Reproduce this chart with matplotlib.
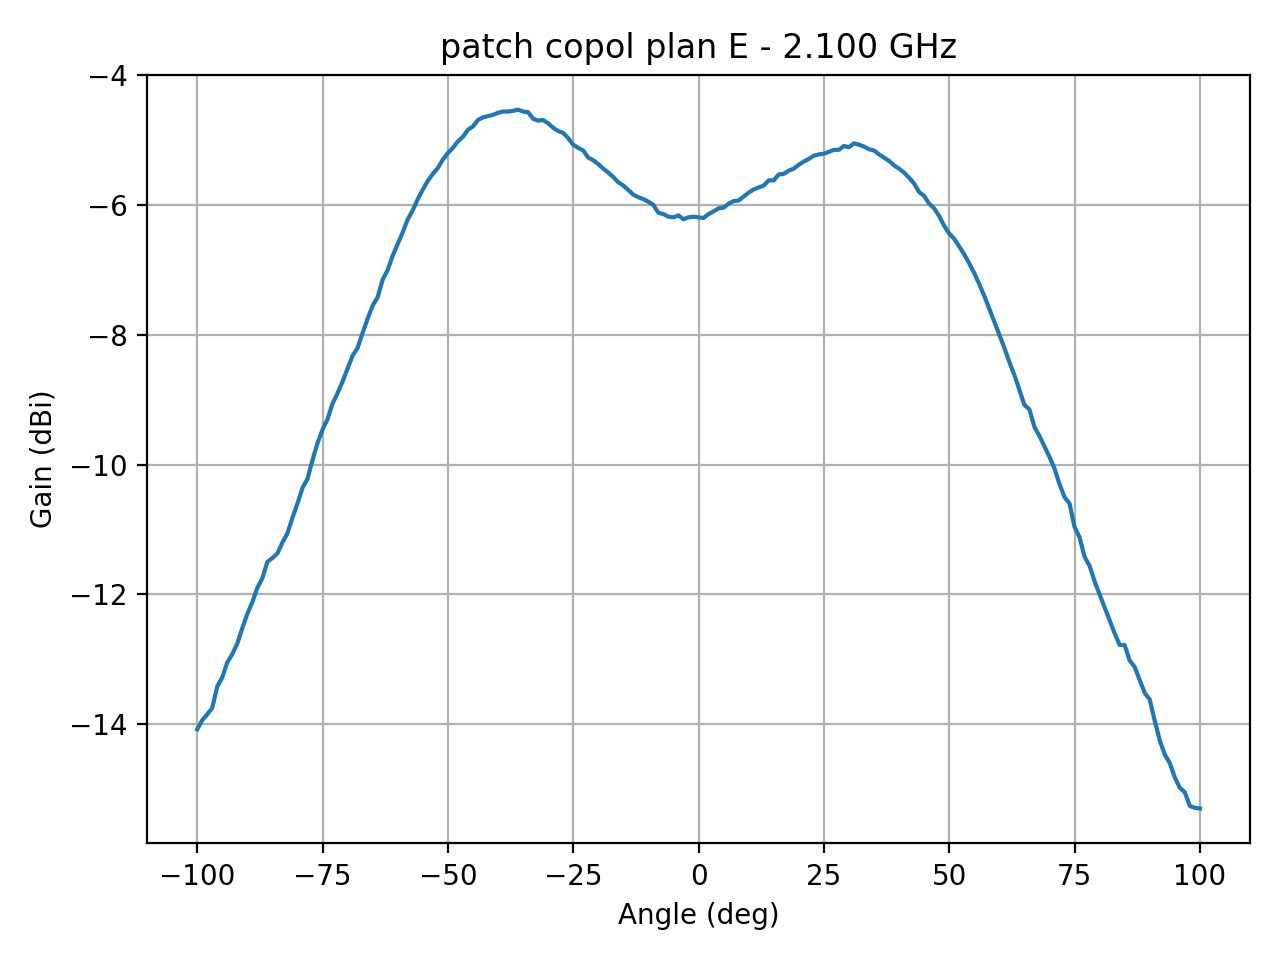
import numpy as np
import matplotlib
matplotlib.use("Agg")
import matplotlib.pyplot as plt

# measured copolar E-plane pattern, 1 deg steps
angles = np.arange(-100, 101, 1)
gain_dbi = [
    -14.08, -13.94, -13.85, -13.75, -13.42, -13.28, -13.05, -12.92, -12.76, -12.52,
    -12.30, -12.12, -11.90, -11.75, -11.50, -11.44, -11.37, -11.20, -11.06, -10.82,
    -10.60, -10.36, -10.22, -9.93, -9.67, -9.46, -9.30, -9.06, -8.90, -8.72,
    -8.52, -8.32, -8.20, -7.97, -7.75, -7.55, -7.42, -7.15, -7.00, -6.78,
    -6.60, -6.42, -6.22, -6.08, -5.91, -5.76, -5.63, -5.52, -5.43, -5.30,
    -5.20, -5.12, -5.02, -4.95, -4.84, -4.79, -4.69, -4.65, -4.63, -4.61,
    -4.58, -4.56, -4.56, -4.55, -4.53, -4.56, -4.57, -4.67, -4.70, -4.69,
    -4.74, -4.81, -4.86, -4.89, -4.97, -5.07, -5.12, -5.16, -5.27, -5.31,
    -5.37, -5.44, -5.50, -5.57, -5.65, -5.70, -5.77, -5.84, -5.88, -5.91,
    -5.95, -6.00, -6.12, -6.14, -6.18, -6.19, -6.16, -6.22, -6.19, -6.18,
    -6.19, -6.20, -6.14, -6.10, -6.05, -6.04, -5.98, -5.94, -5.93, -5.87,
    -5.81, -5.76, -5.73, -5.70, -5.62, -5.62, -5.53, -5.52, -5.47, -5.44,
    -5.38, -5.33, -5.29, -5.24, -5.22, -5.21, -5.18, -5.15, -5.15, -5.09,
    -5.11, -5.05, -5.07, -5.10, -5.14, -5.16, -5.22, -5.27, -5.32, -5.39,
    -5.44, -5.50, -5.58, -5.67, -5.80, -5.86, -5.98, -6.05, -6.17, -6.32,
    -6.44, -6.52, -6.64, -6.76, -6.90, -7.05, -7.22, -7.40, -7.60, -7.80,
    -8.00, -8.20, -8.42, -8.62, -8.85, -9.08, -9.15, -9.42, -9.56, -9.72,
    -9.88, -10.06, -10.30, -10.50, -10.60, -10.96, -11.12, -11.42, -11.56, -11.80,
    -12.00, -12.20, -12.40, -12.60, -12.78, -12.78, -13.02, -13.12, -13.32, -13.52,
    -13.62, -13.95, -14.25, -14.47, -14.60, -14.82, -14.98, -15.05, -15.26, -15.29,
    -15.30,
]

fig, ax = plt.subplots(figsize=(6.4, 4.8))
ax.plot(angles, gain_dbi)
ax.set_title("patch copol plan E - 2.100 GHz")
ax.set_xlabel("Angle (deg)")
ax.set_ylabel("Gain (dBi)")
ax.grid(True)

fig.tight_layout()
fig.savefig("out.png", dpi=200)
plt.close(fig)
